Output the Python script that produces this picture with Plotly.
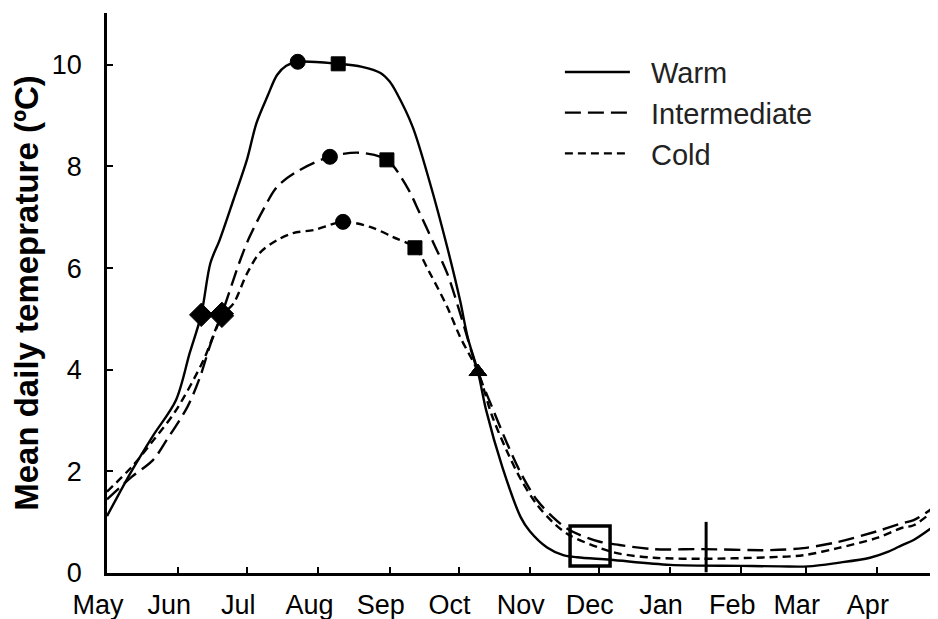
import plotly.graph_objects as go

# ---- data (x = days since 1 May) ----
month_days = [0, 31, 61, 92, 123, 153, 184, 214, 245, 276, 304, 335]
month_labels = ["May", "Jun", "Jul", "Aug", "Sep", "Oct", "Nov", "Dec", "Jan", "Feb", "Mar", "Apr"]

warm_days = [0, 11, 20, 30, 36, 41, 45, 49, 55, 61, 65, 70, 74, 78, 83, 100.6, 111, 119, 123, 126,
             133, 140.5, 148, 153.6, 157, 161.4, 165, 172, 180, 184, 191.5, 198.5, 204.5, 219, 245,
             276, 293, 305, 318, 332, 340, 346, 351, 361.6]
warm_vals = [1.12, 2.03, 2.7, 3.4, 4.33, 5.08, 6.1, 6.55, 7.34, 8.15, 8.85, 9.4, 9.8, 9.98, 10.06, 10.02, 9.96, 9.84, 9.67, 9.45,
             8.78, 7.68, 6.42, 5.37, 4.63, 3.96, 3.2, 2.09, 1.1, 0.82, 0.5, 0.35, 0.31, 0.26, 0.16,
             0.14, 0.13, 0.13, 0.2, 0.3, 0.42, 0.55, 0.65, 0.98]

inter_days = [0, 11, 20, 26, 35, 40.5, 45, 50, 58, 62, 68, 74, 82.7, 97, 110, 121.8, 130.5, 136, 142, 148,
              153.6, 161.4, 167.5, 174, 180, 187, 194, 201, 214, 223, 238, 259, 288, 303, 318, 335, 346, 351, 361.6]
inter_vals = [1.45, 1.9, 2.22, 2.62, 3.27, 3.86, 4.5, 5.1, 6.16, 6.61, 7.15, 7.6, 7.9, 8.19, 8.27, 8.13, 7.6, 7.09, 6.5, 5.9,
              5.12, 3.96, 3.27, 2.56, 1.97, 1.44, 1.1, 0.85, 0.62, 0.55, 0.47, 0.47, 0.45, 0.49, 0.61, 0.82, 0.98, 1.04, 1.35]

cold_days = [0, 11, 20, 30, 42, 50, 55, 61, 66.5, 74, 81, 90, 102.7, 114.5, 124.5, 134, 140.5, 148, 153.6,
             161.4, 167.5, 174, 180, 187, 194, 201, 214, 223, 238, 259, 288, 303, 318, 335, 346, 351, 361.6]
cold_vals = [1.6, 2.1, 2.6, 3.2, 4.19, 5.06, 5.3, 5.9, 6.3, 6.55, 6.69, 6.75, 6.91, 6.81, 6.61, 6.4, 5.9, 5.24, 4.65,
             3.96, 3.1, 2.4, 1.85, 1.35, 1.0, 0.75, 0.5, 0.38, 0.3, 0.28, 0.31, 0.35, 0.49, 0.69, 0.89, 0.94, 1.3]

# event markers on each curve
warm_evt_days = [41, 83, 100.6, 161.4]
warm_evt_vals = [5.08, 10.06, 10.02, 3.96]
inter_evt_days = [50, 97, 121.8, 161.4]
inter_evt_vals = [5.1, 8.19, 8.13, 3.96]
cold_evt_days = [50, 102.7, 134, 161.4]
cold_evt_vals = [5.06, 6.91, 6.4, 3.96]
evt_symbols = ["diamond", "circle", "square", "triangle-up"]
evt_sizes = [18, 15, 14, 15]

# winter markers
box_day, box_val = [210.2], [0.53]
bar_day, bar_val = [260.7], [0.51]

FONT = "Liberation Sans, Arial, sans-serif"
PAD = "\u00a0\u00a0"

fig = go.Figure()
series = [
    ("Warm", warm_days, warm_vals, "solid", warm_evt_days, warm_evt_vals),
    ("Intermediate", inter_days, inter_vals, "16px,7px", inter_evt_days, inter_evt_vals),
    ("Cold", cold_days, cold_vals, "8px,5px", cold_evt_days, cold_evt_vals),
]
for name, xd, yd, dash, ed, ev in series:
    fig.add_trace(go.Scatter(x=xd, y=yd, mode="lines", name=PAD + name,
                             line=dict(color="black", width=2.4, dash=dash, shape="spline", smoothing=0.9)))
for name, xd, yd, dash, ed, ev in series:
    fig.add_trace(go.Scatter(x=ed, y=ev, mode="markers", showlegend=False,
                             marker=dict(color="black", opacity=1, size=evt_sizes, symbol=evt_symbols,
                                         line=dict(width=1, color="black"))))

fig.add_trace(go.Scatter(x=box_day, y=box_val, mode="markers", showlegend=False,
                         marker=dict(symbol="square-open", size=40, color="black", opacity=1,
                                     line=dict(width=3.5, color="black"))))
fig.add_trace(go.Scatter(x=bar_day, y=bar_val, mode="markers", showlegend=False,
                         marker=dict(symbol="line-ns", size=36, color="black", opacity=1,
                                     line=dict(width=3, color="black"))))

# page body has an 8px margin: figure is offset by (8, 8) in the window
fig.update_layout(
    width=930, height=611,
    margin=dict(l=99, r=0, t=5, b=46),
    plot_bgcolor="white", paper_bgcolor="white",
    font=dict(family=FONT, color="black", size=27),
    showlegend=True,
    legend=dict(x=0.545, y=0.94, xanchor="left", yanchor="top", bgcolor="rgba(0,0,0,0)",
                font=dict(size=29, color="#222222"), itemwidth=65),
)
fig.update_xaxes(range=[0, 361.6], tickvals=month_days, ticktext=month_labels,
                 showgrid=False, zeroline=False, showline=True, linecolor="black", linewidth=2.5,
                 ticks="inside", ticklen=6, tickwidth=1.5, tickcolor="black",
                 tickfont=dict(size=27), ticklabelshift=-9, ticklabelstandoff=6)
fig.update_yaxes(range=[0, 11.02], tickvals=[0, 2, 4, 6, 8, 10],
                 showgrid=False, zeroline=False, showline=True, linecolor="black", linewidth=2.5,
                 ticks="inside", ticklen=6, tickwidth=1.5, tickcolor="black",
                 tickfont=dict(size=27), ticklabelstandoff=17,
                 title=dict(text="Mean daily temeprature (ºC)", font=dict(size=33, weight="bold"), standoff=10))

fig.write_html("out.html")
